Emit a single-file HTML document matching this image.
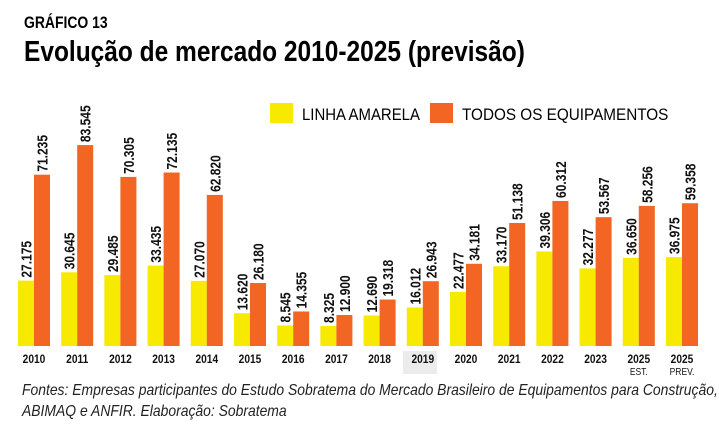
<!DOCTYPE html>
<html><head><meta charset="utf-8">
<style>
html,body{margin:0;padding:0;background:#fff;}
body{width:719px;height:427px;overflow:hidden;font-family:"Liberation Sans",sans-serif;}
</style></head>
<body>
<svg width="719" height="427" xmlns="http://www.w3.org/2000/svg">
<text x="24" y="28" font-size="17" font-weight="bold" transform="translate(24 0) scale(0.82 1) translate(-24 0)">GRÁFICO 13</text>
<text x="24" y="61" font-size="29" font-weight="bold" transform="translate(24 0) scale(0.845 1) translate(-24 0)">Evolução de mercado 2010-2025 (previsão)</text>
<rect x="270" y="103" width="23" height="20" fill="#f7ea00"/>
<text x="302" y="120" font-size="17" transform="translate(302 0) scale(0.88 1) translate(-302 0)">LINHA AMARELA</text>
<rect x="430" y="103" width="23" height="20" fill="#f26522"/>
<text x="462" y="120" font-size="17" transform="translate(462 0) scale(0.9 1) translate(-462 0)">TODOS OS EQUIPAMENTOS</text>
<rect x="403" y="351" width="34" height="23" fill="#ececec"/>
<g id="bars"></g>
<text x="22" y="395" font-size="16" font-style="italic" fill="#222" transform="translate(22 0) scale(0.87 1) translate(-22 0)">Fontes: Empresas participantes do Estudo Sobratema do Mercado Brasileiro de Equipamentos para Construção,</text>
<text x="22" y="416" font-size="16" font-style="italic" fill="#222" transform="translate(22 0) scale(0.87 1) translate(-22 0)">ABIMAQ e ANFIR. Elaboração: Sobratema</text>
</svg>
<script>
const categories=["2010","2011","2012","2013","2014","2015","2016","2017","2018","2019","2020","2021","2022","2023","2025","2025"];
const subLabels=["","","","","","","","","","","","","","","EST.","PREV."];
const yellowValues=[27.175,30.645,29.485,33.435,27.070,13.620,8.545,8.325,12.690,16.012,22.477,33.170,39.306,32.277,36.650,36.975];
const orangeValues=[71.235,83.545,70.305,72.135,62.820,26.180,14.355,12.900,19.318,26.943,34.181,51.138,60.312,53.567,58.256,59.358];
const yellowLabels=["27.175","30.645","29.485","33.435","27.070","13.620","8.545","8.325","12.690","16.012","22.477","33.170","39.306","32.277","36.650","36.975"];
const orangeLabels=["71.235","83.545","70.305","72.135","62.820","26.180","14.355","12.900","19.318","26.943","34.181","51.138","60.312","53.567","58.256","59.358"];
const NS="http://www.w3.org/2000/svg";
const baseY=346, pxPer=2.405;
const yScale=v=>baseY-v*pxPer;
const xCenter=i=>34+i*43.2;
const bw=16;
const g=document.getElementById('bars');
function mk(tag,attrs){const e=document.createElementNS(NS,tag);for(const k in attrs)e.setAttribute(k,attrs[k]);g.appendChild(e);return e;}
function valLabel(x,top,txt){
  const t=mk('text',{x:0,y:0,'font-size':15,'font-weight':'bold',fill:'#111',transform:`translate(${x+5.5},${top-3}) rotate(-90) scale(0.8 1)`});
  t.textContent=txt;return t;
}
categories.forEach((c,i)=>{
  const cx=xCenter(i);
  const yy=yScale(yellowValues[i]);
  const r1=mk('rect',{x:cx-bw,y:yy,width:bw,height:baseY-yy,fill:'#f7ea00'});
  
  
  const oy=yScale(orangeValues[i]);
  const r2=mk('rect',{x:cx,y:oy,width:bw,height:baseY-oy,fill:'#f26522'});
  
  
  const l1=valLabel(cx-bw/2,yy,yellowLabels[i]);
  
  
  const l2=valLabel(cx+bw/2,oy,orangeLabels[i]);
  
  
  const yl=mk('text',{x:0,y:0,'font-size':12,'font-weight':'bold','text-anchor':'middle',fill:'#111',transform:`translate(${cx},${363}) scale(0.85 1)`});
  yl.textContent=c;
  
  
  if(subLabels[i]){
    const sl=mk('text',{x:0,y:0,'font-size':10,'text-anchor':'middle',fill:'#111',transform:`translate(${cx},${375}) scale(0.85 1)`});
    sl.textContent=subLabels[i];
    
    
  }
});
</script>
</body></html>
